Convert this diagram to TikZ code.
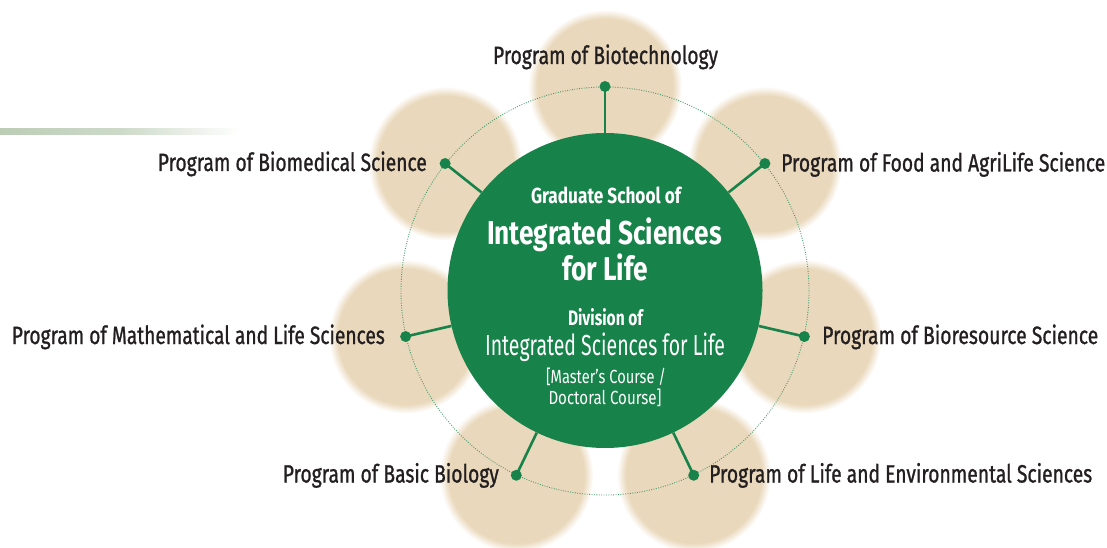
\documentclass[tikz,border=0pt]{standalone}
\usepackage{fontspec}
\usepackage{graphicx}
\usetikzlibrary{calc}
\setmainfont{Fira Sans}
\newfontfamily\labfont{Fira Sans}[FakeBold=1.2]
\definecolor{gsgreen}{RGB}{23,130,73}
\definecolor{beig}{RGB}{233,216,187}
\definecolor{txt}{RGB}{35,31,32}
\definecolor{barcol}{RGB}{188,205,182}
\pgfdeclareradialshading{blob}{\pgfpointorigin}{color(0bp)=(beig); color(22bp)=(beig); color(25bp)=(white); color(50bp)=(white)}
\newcommand\fw[2]{\resizebox{#1pt}{\height}{#2}}
\tikzset{
  lab/.style={inner sep=0pt, text=txt, font=\labfont\fontsize{25}{25}\selectfont},
  inn/.style={inner sep=0pt, text=white, anchor=base},
  pdot/.style={circle, fill=gsgreen, inner sep=0pt, minimum size=11pt},
  conn/.style={draw=gsgreen, line width=2.6pt},
  ring/.style={draw=gsgreen!80, line width=0.9pt, dash pattern=on 0.9pt off 1.5pt},
}
\begin{document}
\begin{tikzpicture}[x=1pt,y=-1pt]
\useasboundingbox (0,0) rectangle (1107,548);
\coordinate (C) at (605,291);
% side bar
\shade[left color=barcol, right color=white, middle color=barcol!75] (0,129) rectangle (240,134.5);
% beige circles
\foreach \a in {90,141.43,38.57,192.86,347.14,244.29,295.71}{
  \shade[shading=blob] ($(C)+({204.5*cos(\a)},{-204.5*sin(\a)})$) circle[radius=77pt];
}
\draw[ring] (C) circle[radius=204pt];
% central circle
\node[circle, fill=gsgreen, minimum size=315pt, inner sep=0pt] (g) at (605,290.5) {};
\foreach \a/\n in {90/d1,141.43/d2,38.57/d3,192.86/d4,347.14/d5,244.29/d6,295.71/d7}{
  \node[pdot] (\n) at ($(C)+({204.5*cos(\a)},{-204.5*sin(\a)})$) {};
  \draw[conn] (\n.center) -- (g);
}
% labels
\node[lab, anchor=base] (l1) at (605.5,64) {\fw{225}{Program of Biotechnology}};
\node[lab, anchor=base east] (l2) at (427,171) {\fw{269}{Program of Biomedical Science}};
\node[lab, anchor=base west] (l3) at (781,171.5) {\fw{324}{Program of Food and AgriLife Science}};
\node[lab, anchor=base east] (l4) at (385,344) {\fw{373}{Program of Mathematical and Life Sciences}};
\node[lab, anchor=base west] (l5) at (822,344) {\fw{276}{Program of Bioresource Science}};
\node[lab, anchor=base east] (l6) at (499,482.5) {\fw{216}{Program of Basic Biology}};
\node[lab, anchor=base west] (l7) at (709,482.5) {\fw{383}{Program of Life and Environmental Sciences}};
% inner texts
\node[inn, font=\bfseries\fontsize{21.8}{22}\selectfont] (t1) at (606,203.3) {\fw{150}{Graduate School of}};
\node[inn, font=\bfseries\fontsize{33}{33}\selectfont] (t2) at (604.5,244.3) {\fw{235}{Integrated Sciences}};
\node[inn, font=\bfseries\fontsize{33}{33}\selectfont] (t3) at (605,280) {\fw{86}{for Life}};
\node[inn, font=\bfseries\fontsize{21}{21}\selectfont] (t4) at (605.5,325) {\fw{75}{Division of}};
\node[inn, font=\fontsize{29}{29}\selectfont] (t5) at (605,355.5) {\fw{240}{Integrated Sciences for Life}};
\node[inn, font=\fontsize{19}{19}\selectfont] (t6) at (606,383.5) {\fw{120}{[Master's Course /}};
\node[inn, font=\fontsize{19}{19}\selectfont] (t7) at (605,404) {\fw{113}{Doctoral Course]}};
\end{tikzpicture}
\end{document}
